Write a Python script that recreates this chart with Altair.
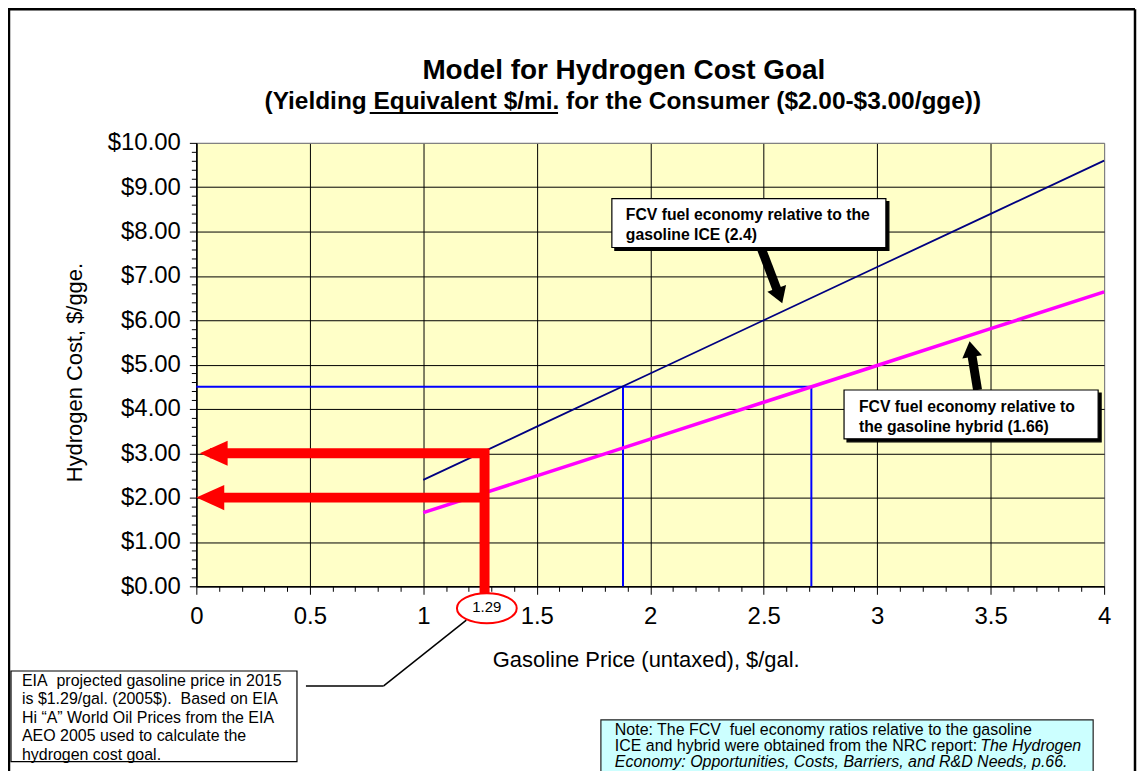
import altair as alt
import pandas as pd

FONT = "Liberation Sans"

# ---------------- data ----------------
gas_price = [1.0, 1.5, 2.0, 2.5, 3.0, 3.5, 4.0]
ice_h2_cost = [2.40, 3.60, 4.80, 6.00, 7.20, 8.40, 9.60]        # FCV vs gasoline ICE (2.4)
hybrid_h2_cost = [1.66, 2.49, 3.32, 4.15, 4.98, 5.81, 6.64]     # FCV vs gasoline hybrid (1.66)

target_cost = 4.50
target_price = [1.88, 2.71]

eia_price = 1.27
eia_label = "1.29"
goal_cost = [3.00, 2.00]
arrow_tip = [0.015, 0.0]

x_ticks = [round(i * 0.1, 1) for i in range(41)]
y_ticks = [round(i * 0.2, 1) for i in range(51)]

# ---------------- layout (page pixels) ----------------
L, T, W, H = 197, 142, 911, 445
NB = "\u00a0"


def px(x):
    return x - L


def py(y):
    return y - T


one = alt.Data(values=[{"a": 1}])

major_x = "abs(datum.value * 2 - round(datum.value * 2)) < 0.001"
major_y = "abs(datum.value - round(datum.value)) < 0.001"

xscale = alt.Scale(domain=[0, 4], nice=False, zero=False)
yscale = alt.Scale(domain=[0, 10], nice=False, zero=False)

xaxis = alt.Axis(
    values=x_ticks, title="Gasoline Price (untaxed), $/gal.",
    labelExpr=f"({major_x}) ? format(datum.value, '~g') : ''",
    labelOverlap=False, labelFlush=False, labelBound=False,
    labelFont=FONT, labelFontSize=24, labelColor="black", labelPadding=10,
    tickSize={"condition": {"test": major_x, "value": 8}, "value": 5},
    tickColor="black", tickWidth=1,
    grid=True,
    gridOpacity={"condition": {"test": major_x, "value": 1}, "value": 0},
    gridColor={"condition": {"test": "datum.value > 3.99", "value": "#808080"}, "value": "#000000"},
    gridWidth=1,
    domainColor="black", domainWidth=1.5,
    titleFont=FONT, titleFontSize=22, titleFontWeight="normal", titleColor="black",
    titleX=px(648), titleY=660 - (T + H), titleBaseline="middle", titleAlign="center",
)

yaxis = alt.Axis(
    values=y_ticks, title="Hydrogen Cost, $/gge.",
    labelExpr=f"({major_y}) ? '$' + format(datum.value, '.2f') : ''",
    labelOverlap=False, labelFlush=False, labelBound=False,
    labelFont=FONT, labelFontSize=24, labelColor="black", labelPadding=9,
    tickSize={"condition": {"test": major_y, "value": 7}, "value": 5},
    tickColor="black", tickWidth=1,
    grid=True,
    gridOpacity={"condition": {"test": major_y, "value": 1}, "value": 0},
    gridColor={"condition": {"test": "datum.value > 9.99", "value": "#808080"}, "value": "#000000"},
    gridWidth=1,
    domainColor="black", domainWidth=1.5,
    titleFont=FONT, titleFontSize=22, titleFontWeight="normal", titleColor="black",
    titleAngle=270, titleX=px(75), titleY=py(372), titleBaseline="middle", titleAlign="center",
)


def X(f):
    return alt.X(f, type="quantitative", scale=xscale, axis=xaxis)


def Y(f):
    return alt.Y(f, type="quantitative", scale=yscale, axis=yaxis)


def rule(x1, y1, x2, y2, color="black", width=1.5):
    return alt.Chart(one).mark_rule(color=color, strokeWidth=width, strokeCap="butt").encode(
        x=alt.value(px(x1)), y=alt.value(py(y1)), x2=alt.value(px(x2)), y2=alt.value(py(y2)))


def box(x1, y1, x2, y2, fill="white", stroke="black", width=1.2):
    return alt.Chart(one).mark_rect(fill=fill, stroke=stroke, strokeWidth=width, opacity=1).encode(
        x=alt.value(px(x1)), y=alt.value(py(y1)), x2=alt.value(px(x2)), y2=alt.value(py(y2)))


def txt(s, x, y, size, weight="normal", style="normal", align="left", color="black"):
    return alt.Chart(one).mark_text(
        text=s, align=align, baseline="middle", font=FONT, fontSize=size,
        fontWeight=weight, fontStyle=style, color=color).encode(
        x=alt.value(px(x)), y=alt.value(py(y)))


# ---------------- data layers ----------------
ice_df = pd.DataFrame({"x": gas_price, "y": ice_h2_cost})
hyb_df = pd.DataFrame({"x": gas_price, "y": hybrid_h2_cost})

blue_df = pd.DataFrame({
    "x": [0.0, target_price[0], target_price[1]],
    "x2": [target_price[1], target_price[0], target_price[1]],
    "y": [target_cost, 0.0, 0.0],
    "y2": [target_cost, target_cost, target_cost],
})

red_path = pd.DataFrame({"x": [0.06, eia_price, eia_price], "y": [goal_cost[0], goal_cost[0], -0.4], "o": [0, 1, 2]})
red_low = pd.DataFrame({"x": [0.06], "x2": [eia_price], "y": [goal_cost[1]]})
red_heads = pd.DataFrame({"x": arrow_tip, "y": goal_cost})

ice_line = alt.Chart(ice_df).mark_line(color="#000080", strokeWidth=1.8).encode(x=X("x"), y=Y("y"))
hyb_line = alt.Chart(hyb_df).mark_line(color="#FF00FF", strokeWidth=3.5).encode(x=X("x"), y=Y("y"))
blue = alt.Chart(blue_df).mark_rule(color="#0000FF", strokeWidth=2).encode(
    x=X("x"), x2="x2", y=Y("y"), y2="y2")
red1 = alt.Chart(red_path).mark_line(color="#FF0000", strokeWidth=10, strokeJoin="miter", strokeCap="butt").encode(
    x=X("x"), y=Y("y"), order="o:Q")
red2 = alt.Chart(red_low).mark_rule(color="#FF0000", strokeWidth=10, strokeCap="butt").encode(
    x=X("x"), x2="x2", y=Y("y"))
red_arrow = alt.Chart(red_heads).mark_point(
    shape="M 0 0 L 2 -0.9 L 2 0.9 Z", size=784, filled=True, color="#FF0000", opacity=1, strokeWidth=0).encode(
    x=X("x"), y=Y("y"))

ell_df = pd.DataFrame({"x": [eia_price + 0.01], "label": [eia_label]})
ellipse = alt.Chart(ell_df).mark_point(
    shape="M -1 0 A 1 0.5 0 1 0 1 0 A 1 0.5 0 1 0 -1 0 Z", size=3600, filled=True,
    fill="white", stroke="#FF0000", strokeWidth=2, opacity=1).encode(x=X("x"), y=alt.value(py(609)))
ell_text = alt.Chart(ell_df).mark_text(font=FONT, fontSize=15, color="black", baseline="middle").encode(
    x=X("x"), y=alt.value(py(608)), text="label:N")

# ---------------- annotations ----------------
head_up = "M 0 0 L 1.25 2 L -1.25 2 Z"
ice_head = alt.Chart(one).mark_point(shape=head_up, size=256, filled=True, color="black", opacity=1,
                                     strokeWidth=0, angle=159.7).encode(x=alt.value(px(785)), y=alt.value(py(303)))
hyb_head = alt.Chart(one).mark_point(shape=head_up, size=256, filled=True, color="black", opacity=1,
                                     strokeWidth=0, angle=350.7).encode(x=alt.value(px(973)), y=alt.value(py(341)))

layers = [
    blue, ice_line, hyb_line, red1, red2, red_arrow,
    # leader line to the EIA note
    rule(307, 687, 385, 687), rule(385, 687, 468, 621),
    ellipse, ell_text,
    # ICE callout
    rule(764, 248, 780, 290, width=9), ice_head,
    box(617, 201, 892, 250, fill="#000000", stroke="#000000"),
    box(614, 198, 889, 247),
    txt("FCV fuel economy relative to the", 628, 214, 15.8, weight="bold"),
    txt("gasoline ICE (2.4)", 628, 234, 15.8, weight="bold"),
    # hybrid callout
    rule(981, 390, 975.3, 355, width=9), hyb_head,
    box(850, 393, 1105, 442, fill="#000000", stroke="#000000"),
    box(847, 390, 1102, 439),
    txt("FCV fuel economy relative to", 862, 407, 15.8, weight="bold"),
    txt("the gasoline hybrid (1.66)", 862, 427, 15.8, weight="bold"),
    # EIA box
    box(11, 672, 298, 763),
    txt(f"EIA{NB} projected gasoline price in 2015", 22, 682, 16),
    txt(f"is $1.29/gal. (2005$).{NB} Based on EIA", 22, 700.5, 16),
    txt("Hi \u201cA\u201d World Oil Prices from the EIA", 22, 719, 16),
    txt("AEO 2005 used to calculate the", 22, 737.5, 16),
    txt("hydrogen cost goal.", 22, 756, 16),
    # NRC note box
    box(603, 721, 1097, 800, fill="#CCFFFF", stroke="#202020"),
    txt(f"Note: The FCV{NB} fuel economy ratios relative to the gasoline", 617, 731, 16),
    txt("ICE and hybrid were obtained from the NRC report: ", 617, 747, 16),
    txt("The Hydrogen", 1085, 747, 16, style="italic", align="right"),
    txt("Economy: Opportunities, Costs, Barriers, and R&D Needs, p.66.", 617, 763, 16, style="italic"),
    # titles
    txt("Model for Hydrogen Cost Goal", 626, 70, 28, weight="bold", align="center"),
    txt("(Yielding Equivalent $/mi. for the Consumer ($2.00-$3.00/gge))", 625, 101, 24.5,
        weight="bold", align="center"),
    rule(371, 112, 560, 112, width=2),
    # outer frame
    rule(8, 8, 1139, 8, width=2.5), rule(9, 8, 9, 800, width=2.5), rule(1139, 8, 1139, 800, width=2.5),
]

chart = alt.layer(*layers).properties(
    width=W, height=H,
    padding={"left": L - 8, "top": T - 8, "right": 1141 - 8 - (L - 8) - W, "bottom": 763 - (T - 8) - H},
    autosize=alt.AutoSizeParams(type="none"),
    background="white",
).configure_view(fill="#FFFFC8", stroke="#808080", strokeWidth=1)

chart.save("out.html", embed_options={"renderer": "svg", "actions": False})
